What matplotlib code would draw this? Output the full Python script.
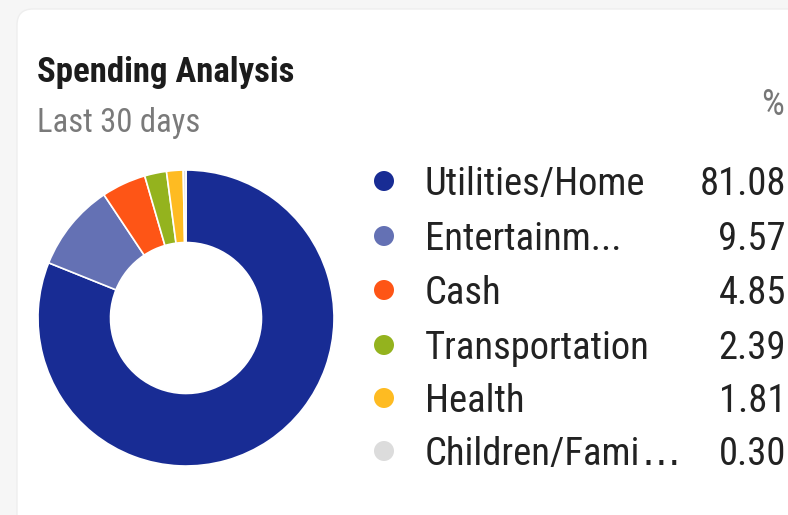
import matplotlib
matplotlib.use("Agg")
import matplotlib.pyplot as plt
from matplotlib.patches import FancyBboxPatch, Circle

categories = ["Utilities/Home", "Entertainm...", "Cash", "Transportation", "Health", "Children/Fami"]
shares = [81.08, 9.57, 4.85, 2.39, 1.81, 0.30]
value_labels = ["81.08", "9.57", "4.85", "2.39", "1.81", "0.30"]
colors = ["#182c94", "#6471b4", "#fe5516", "#94b31e", "#febb22", "#dcdcdc"]

W, H = 788, 515
fig = plt.figure(figsize=(W / 100, H / 100), dpi=100)
fig.patch.set_facecolor("#f6f6f6")

# full-figure axes in pixel units for the card, titles and legend
bg = fig.add_axes([0, 0, 1, 1])
bg.set_xlim(0, W); bg.set_ylim(H, 0); bg.axis("off")
bg.add_patch(FancyBboxPatch((17, 9), 900, 700, boxstyle="round,pad=0,rounding_size=16",
                            fc="white", ec="#eeeeee", lw=1))

font = "Roboto Condensed"
bg.text(37, 82, "Spending Analysis", fontsize=25, fontweight="bold", color="#1c1c1c",
        va="baseline", family=font)
bg.text(37, 132, "Last 30 days", fontsize=23.5, color="#7a7a7a", va="baseline", family=font)
bg.text(784, 115, "%", fontsize=26, color="#777777", va="baseline", ha="right", family=font)

rows = [181, 236, 290, 345, 398, 451]
for y, name, val, c in zip(rows, categories, value_labels, colors):
    bg.add_patch(Circle((384, y), 10, fc=c, ec="none"))
    t = bg.text(425, y + 14, name, fontsize=27.8, color="#222222", va="baseline", family=font)
    bg.text(786, y + 14, val, fontsize=27.8, color="#222222", va="baseline", ha="right", family=font)
    if name.endswith("Fami"):
        # wide, spaced-out ellipsis as in the app
        bg.annotate("\u2026", xy=(1, 0), xycoords=t, xytext=(1, 0), textcoords="offset points",
                    va="bottom", ha="left", fontsize=27.8, color="#222222", family="DejaVu Sans")

ax = fig.add_axes([38 / W, 1 - 466 / H, 296 / W, 296 / H])
ax.pie(shares, colors=colors, startangle=90, counterclock=False, radius=1,
       wedgeprops=dict(width=0.49, edgecolor="white", linewidth=1.2))
ax.set_xlim(-1, 1); ax.set_ylim(-1, 1); ax.set_aspect("equal")

fig.savefig("out.png", dpi=100, facecolor=fig.get_facecolor())
